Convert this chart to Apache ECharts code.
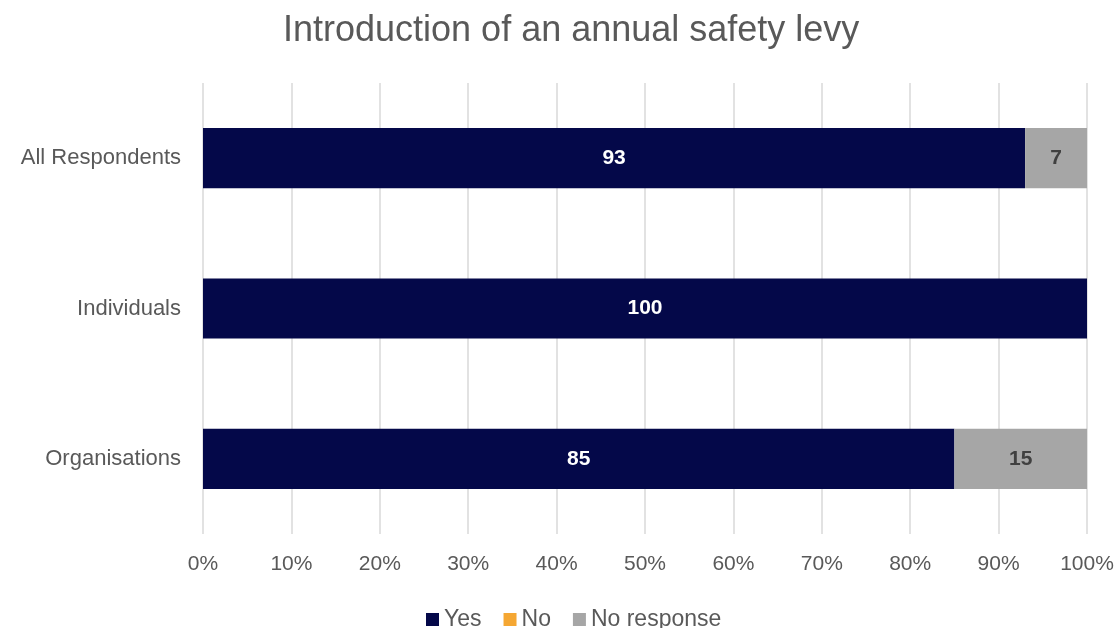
<!DOCTYPE html>
<html>
<head>
<meta charset="utf-8">
<script src="https://cdn.jsdelivr.net/npm/echarts@6/dist/echarts.min.js"></script>
<style>
  html, body { margin: 0; padding: 0; background: #fff; }
  #chart { width: 1120px; height: 628px; }
</style>
</head>
<body>
<div id="chart"></div>
<script>
// Survey groups and response shares (%)
const categories = ['All Respondents', 'Individuals', 'Organisations'];
const yesValues = [93, 100, 85];
const noValues = [0, 0, 0];
const noResponseValues = [7, 0, 15];

const FONT = '"Liberation Sans", Arial, sans-serif';
const chart = echarts.init(document.getElementById('chart'));

function barLabel(color) {
  return {
    show: true,
    position: 'inside',
    color: color,
    fontFamily: FONT,
    fontWeight: 'bold',
    fontSize: 21,
    formatter: p => (p.value > 0 ? String(p.value) : '')
  };
}

chart.setOption({
  animation: false,
  title: {
    text: 'Introduction of an annual safety levy',
    left: 278,
    top: 8,
    textStyle: {
      fontFamily: FONT,
      fontWeight: 'normal',
      fontSize: 36,
      color: '#595959'
    }
  },
  legend: {
    top: 603,
    left: 421,
    itemWidth: 13,
    itemHeight: 13,
    itemGap: 22,
    icon: 'rect',
    textStyle: {
      fontFamily: FONT,
      fontSize: 23,
      color: '#595959'
    },
    data: ['Yes', 'No', 'No response']
  },
  grid: {
    left: 203,
    right: 33,
    top: 83,
    bottom: 94,
    containLabel: false
  },
  xAxis: {
    type: 'value',
    min: 0,
    max: 100,
    interval: 10,
    axisLine: { show: false },
    axisTick: { show: false },
    splitLine: { show: true, lineStyle: { color: '#d9d9d9', width: 1.5 } },
    axisLabel: {
      formatter: '{value}%',
      margin: 20,
      fontFamily: FONT,
      fontSize: 21,
      color: '#595959'
    }
  },
  yAxis: {
    type: 'category',
    inverse: true,
    data: categories,
    axisLine: { show: false },
    axisTick: { show: false },
    axisLabel: {
      margin: 22,
      fontFamily: FONT,
      fontSize: 22,
      color: '#595959'
    }
  },
  series: [
    {
      name: 'Yes',
      type: 'bar',
      stack: 'total',
      barWidth: '40%',
      itemStyle: { color: '#040849' },
      label: barLabel('#ffffff'),
      data: yesValues
    },
    {
      name: 'No',
      type: 'bar',
      stack: 'total',
      itemStyle: { color: '#F5A733' },
      label: barLabel('#404040'),
      data: noValues
    },
    {
      name: 'No response',
      type: 'bar',
      stack: 'total',
      itemStyle: { color: '#A6A6A6' },
      label: barLabel('#404040'),
      data: noResponseValues
    }
  ]
});
</script>
</body>
</html>
